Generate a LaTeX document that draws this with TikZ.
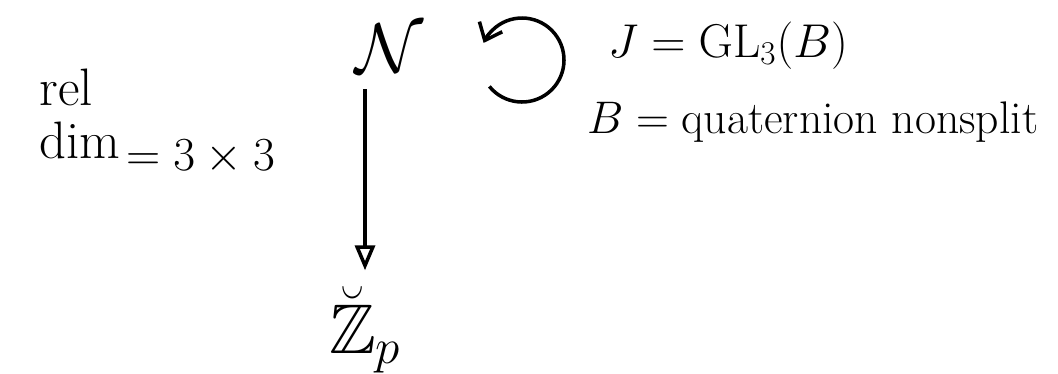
\RequirePackage{fix-cm}
\documentclass[tikz,border=0pt]{standalone}
\usepackage{amsmath,amssymb}
\DeclareFontFamily{U}{msb}{}
\DeclareFontShape{U}{msb}{m}{n}{<-> msbm10}{}
\usetikzlibrary{arrows.meta}
\begin{document}
\begin{tikzpicture}[
    x=0.02cm, y=-0.02cm,
    every node/.style={inner sep=1pt},
    huge/.style={font=\fontsize{40}{46}\selectfont},
    big/.style={font=\fontsize{27}{32}\selectfont},
    small/.style={font=\fontsize{26}{30}\selectfont},
    map/.style={draw,line width=2pt,-{Triangle[open,length=5mm,width=4mm]}},
    act/.style={draw,line width=2pt,-{Straight Barb[length=3mm,width=5mm]}}
]
\useasboundingbox (0,0) rectangle (1058,373);
\node[huge] (N) at (390,48) {\(\mathcal{N}\)};
\node[big,anchor=west] (J) at (606,46) {\(J = \mathrm{GL}_3(B)\)};
\node[small,anchor=west] (B) at (585,122) {\(B = \text{quaternion nonsplit}\)};
\node[font=\fontsize{30}{34}\selectfont,align=left,inner sep=0pt] (rd) at (80,114) {rel\\[-4pt]dim};
\node[big,anchor=west] (eq) at (124,157) {\(= 3\times 3\)};
\node[huge] (Zp) at (365,330) {\(\breve{\mathbb{Z}}_p\)};
\coordinate (c) at (522,60);
\draw[map] (Zp.north |- N.south) ++(0,15) -- ([yshift=8pt]Zp.north);
\draw[act] (c) ++(141:42) arc[start angle=141, end angle=-156, radius=42];
\end{tikzpicture}
\end{document}
